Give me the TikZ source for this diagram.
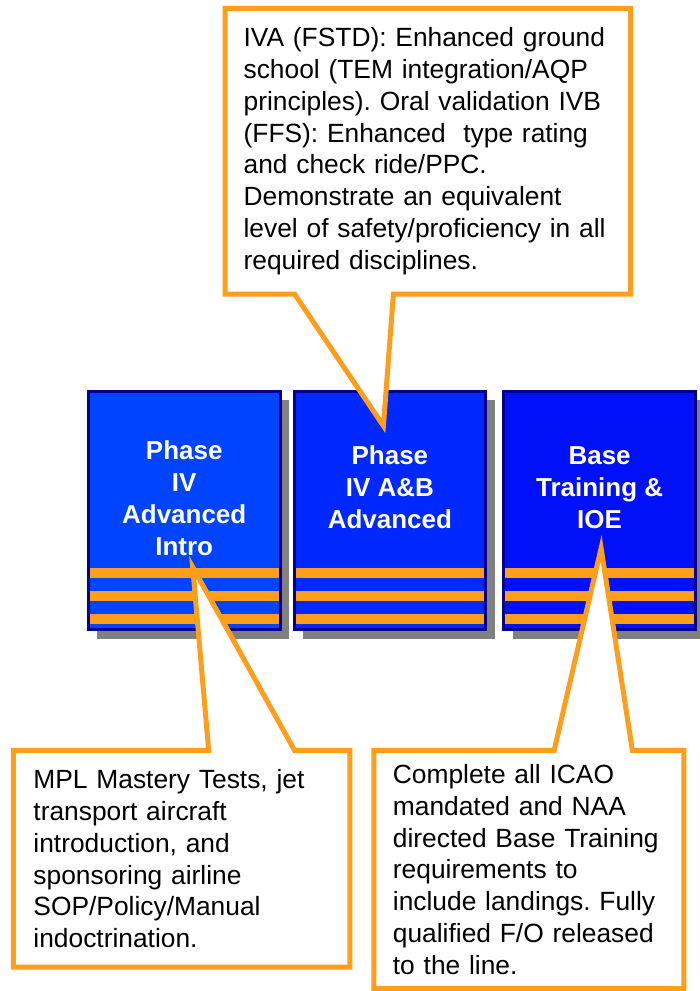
\documentclass[tikz,border=0pt]{standalone}
\usepackage{fontspec}
\setmainfont{Liberation Sans}
\usetikzlibrary{positioning, calc, shadows, backgrounds}
\definecolor{cAccent}{HTML}{FF9E1A}
\definecolor{cEdge}{HTML}{00008C}
\definecolor{cShadow}{HTML}{808080}
\definecolor{cIntro}{HTML}{0044FF}
\definecolor{cAdvanced}{HTML}{0028FF}
\definecolor{cBase}{HTML}{0010F8}
\pgfdeclarelayer{blocks}
\pgfsetlayers{blocks,background,main}
\tikzset{
  phaseblock/.style={draw=cEdge, line width=3bp, inner sep=0pt, outer sep=1.5bp,
    minimum width=192bp, minimum height=238.5bp,
    drop shadow={shadow xshift=9bp, shadow yshift=-9bp, fill=cShadow, opacity=1}},
  phasetitle/.style={text=white, align=center, inner sep=0pt, outer sep=0pt,
    font=\fontsize{26bp}{32bp}\selectfont\bfseries},
  stripe/.style={fill=cAccent},
  note/.style={align=left, inner ysep=0pt, outer sep=0pt,
    font=\fontsize{26.4bp}{31.8bp}\selectfont\frenchspacing},
  callout/.style={draw=cAccent, fill=white, line width=5bp, line join=miter},
}

\begin{document}
\begin{tikzpicture}[x=1bp, y=-1bp]

  \begin{pgfonlayer}{blocks}
    \path[use as bounding box, fill=white] (0,0) rectangle (701,991);

    % ----------------------------------------------------------------
    % Phase blocks in a row, three stripes along the bottom of each
    % ----------------------------------------------------------------
    \node[phaseblock, fill=cIntro] (b1) at (184.5,511.25) {};
    \node[phaseblock, fill=cAdvanced, right=11bp of b1] (b2) {};
    \node[phaseblock, fill=cBase, right=15bp of b2] (b3) {};

    \foreach \b in {b1,b2,b3}
      \foreach \k in {0,1,2}
        \fill[stripe] ($(\b.south west)+(3,-63+23*\k)$)
          rectangle ($(\b.south east)+(-3,-53+23*\k)$);

    \node[phasetitle, below=50.5bp of b1.north] (t1) {Phase\\IV\\Advanced\\Intro};
    \node[phasetitle, below=56bp of b2.north] (t2) {Phase\\IV A\&B\\Advanced};
    \node[phasetitle, below=56.5bp of b3.north] (t3) {Base\\Training \&\\IOE};
  \end{pgfonlayer}

  % ----------------------------------------------------------------
  % Notes (text on top; outline and pointer drawn behind)
  % ----------------------------------------------------------------
  \node[note, text width=369bp, inner xsep=18.5bp, minimum height=286bp,
    above=96bp of b2, xshift=38bp] (n2)
    {IVA (FSTD): Enhanced ground\\
     school (TEM integration/AQP\\
     principles). Oral validation IVB\\
     (FFS): Enhanced\ \ type rating\\
     and check ride/PPC.\\
     Demonstrate an equivalent\\
     level of safety/proficiency in all\\
     required disciplines.};

  \node[note, text width=297bp, inner xsep=20bp, minimum height=217bp,
    below=119.5bp of b1, xshift=-2.5bp] (n1)
    {MPL Mastery Tests, jet\\
     transport aircraft\\
     introduction, and\\
     sponsoring airline\\
     SOP/Policy/Manual\\
     indoctrination.};

  \node[note, text width=272.5bp, inner xsep=19bp, minimum height=238.5bp,
    below=119.5bp of b3, xshift=-70.75bp] (n3)
    {Complete all ICAO\\
     mandated and NAA\\
     directed Base Training\\
     requirements to\\
     include landings. Fully\\
     qualified F/O released\\
     to the line.};

  % pointer tips inside the blocks
  \coordinate (tip1) at ($(b1.south west)+(106,-64)$);
  \coordinate (tip2) at ($(b2.north west)+(91,36)$);
  \coordinate (tip3) at ($(b3.south west)+(99,-83)$);

  \begin{scope}[on background layer]
    \draw[callout] (n2.north west) -- (n2.north east) -- (n2.south east)
      -- ($(n2.south west)+(168.5,0)$) -- (tip2)
      -- ($(n2.south west)+(69.5,0)$) -- (n2.south west) -- cycle;
    \draw[callout] (n1.north west) -- ($(n1.north west)+(195.5,0)$) -- (tip1)
      -- ($(n1.north west)+(281.5,0)$) -- (n1.north east)
      -- (n1.south east) -- (n1.south west) -- cycle;
    \draw[callout] (n3.north west) -- ($(n3.north west)+(180.5,0)$) -- (tip3)
      -- ($(n3.north west)+(258.8,0)$) -- (n3.north east)
      -- (n3.south east) -- (n3.south west) -- cycle;
  \end{scope}

\end{tikzpicture}
\end{document}
